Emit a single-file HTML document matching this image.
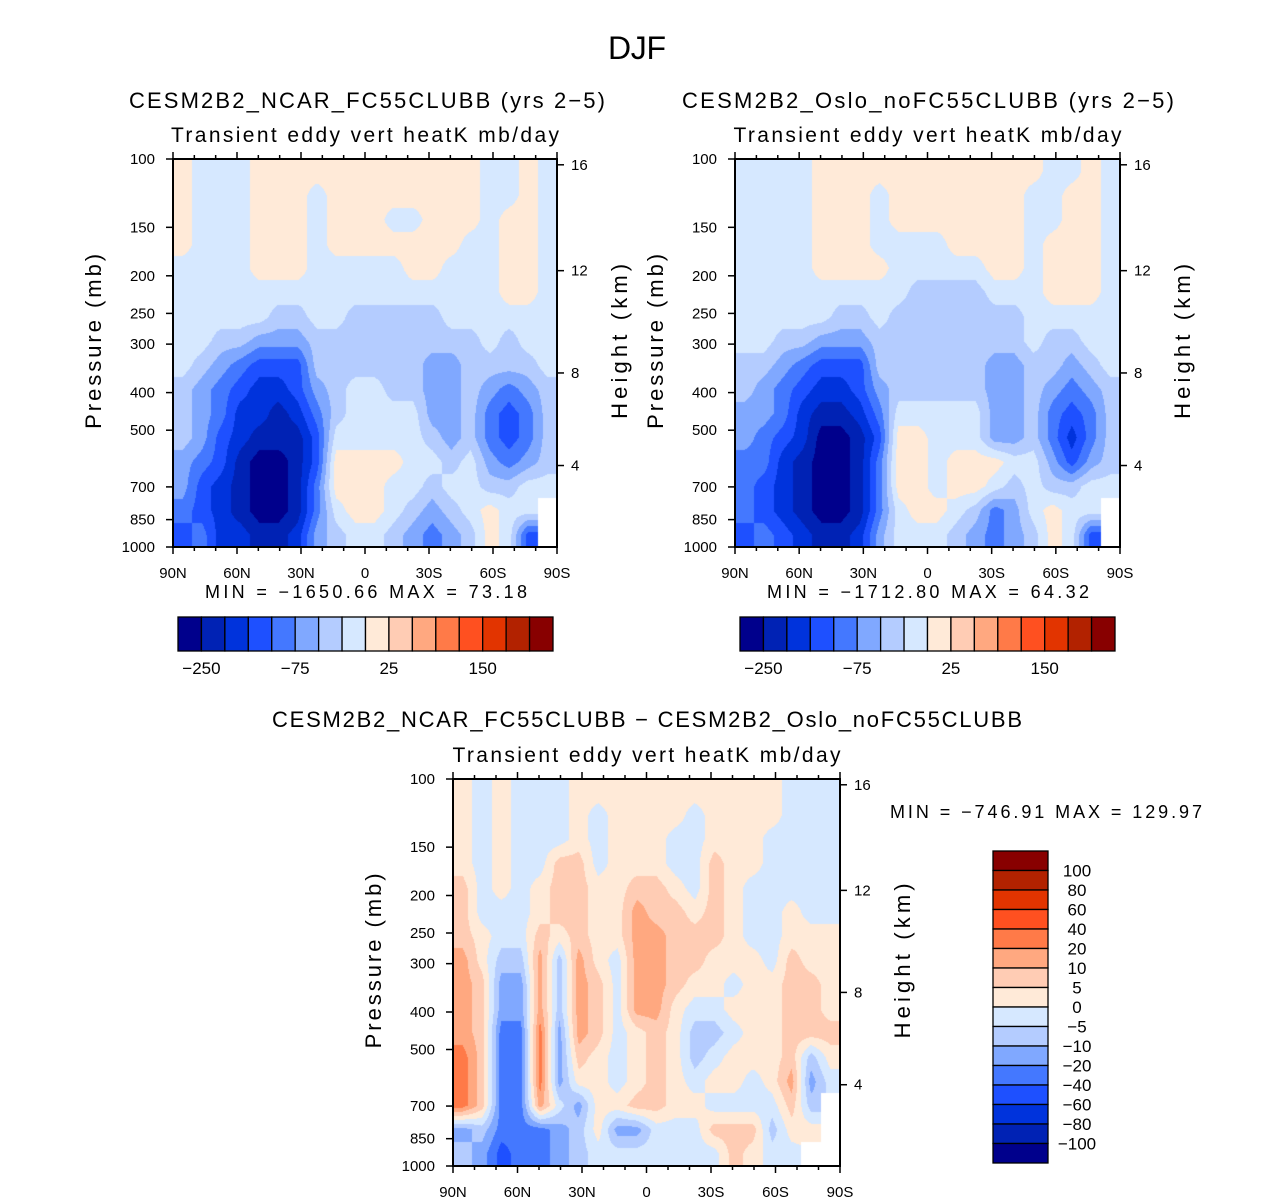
<!DOCTYPE html>
<html><head><meta charset="utf-8">
<style>
html,body{margin:0;padding:0;background:#fff;}
#wrap{position:relative;width:1285px;height:1204px;overflow:hidden;}
canvas{position:absolute;z-index:0;}
svg{position:absolute;left:0;top:0;z-index:1;display:block;font-family:"Liberation Sans",sans-serif;}
</style></head>
<body>
<div id="wrap">
<svg id="fig" width="1285" height="1204" viewBox="0 0 1285 1204" xmlns="http://www.w3.org/2000/svg">
<text x="637" y="59" font-size="32" text-anchor="middle" textLength="58">DJF</text>
</svg>
</div>
<script>
const LEVEL_COLORS = ["#00008C","#0022B4","#0033DC","#1E50FF","#4478FF","#80A8FF","#B4CCFF","#D6E8FF","#FFEAD8","#FFCCB4","#FFA880","#FF7A48","#FF5020","#E23400","#B22200","#880000"];
const colorbarLabelsTop = ["-250","-75","25","150"];
const colorbarLabelIdx = [1,5,9,13];
const colorbarLabelsDiff = ["100","80","60","40","20","10","5","0","-5","-10","-20","-40","-60","-80","-100"];
const pressureTicks = [100,150,200,250,300,400,500,700,850,1000];
const heightTicks = [16,12,8,4];
const heightPressures = [103.5,194,356,616.6];
const latLabels = ["90N","60N","30N","0","30S","60S","90S"];
// field grids: rows top (100 mb) to bottom (1000 mb), columns 90N -> 90S; hex digit = color level, '.' = missing
const fieldA = [
"87778888888888887787",
"87778887888888887787",
"87778887888778887887",
"87778887888888877887",
"77778887777788777887",
"77777777777777777887",
"77777667766666777777",
"77665556666666667677",
"76543336666665566667",
"65432235677665565456",
"65422124677775564346",
"65321113777776564346",
"54310013888877675456",
"53210014888776776677",
"4321001478876567877.",
"3422112567765456873."];
const fieldB = [
"77778888888888887787",
"77778887888888877887",
"77778887888888877887",
"77778887777888878887",
"77778888777778878887",
"77777777766667778887",
"77777667666666677777",
"77665556666666676677",
"66543336666665566567",
"65432235666665565456",
"55421124777775564346",
"54320013887775564246",
"44210014887888775356",
"43210014887887676677",
"4321001478876457877.",
"3432112577765456873."];
const fieldC = [
"87877788888888888777",
"87877787888878888777",
"87877787888778887777",
"87877997888779887777",
"97878998899879877777",
"977789988a9989877877",
"987798988aa999877888",
"a866a6a87aa998887988",
"a955a6a97aa988788998",
"a955a6a97aa877888998",
"a944b5a9789866788999",
"b944b598789867888968",
"b944b588789878878a57",
"b944a75889988777796.",
"5644456855777999688.",
"653445677777779877.."];

const NS = "http://www.w3.org/2000/svg";
const svg = document.getElementById("fig");
const wrap = document.getElementById("wrap");
function mk(tag, attrs, parent){
  const e = document.createElementNS(NS, tag);
  for (const k in attrs) e.setAttribute(k, attrs[k]);
  (parent||svg).appendChild(e);
  return e;
}
function hexRGB(h){ return [parseInt(h.substr(1,2),16),parseInt(h.substr(3,2),16),parseInt(h.substr(5,2),16)]; }
const RGB = LEVEL_COLORS.map(hexRGB);
function yOfP(p, y0, h){ return y0 + Math.log10(p/100) * h; }

function drawField(grid, x0, y0, w, h, name){
  const nr = grid.length, nc = grid[0].length;
  const val = (r,c)=>{
    r = Math.min(nr-1, Math.max(0,r)); c = Math.min(nc-1, Math.max(0,c));
    const ch = grid[r][c];
    return ch === "." ? null : parseInt(ch,16);
  };
  const cv = document.createElement("canvas");
  cv.width = w; cv.height = h;
  cv.style.left = x0+"px"; cv.style.top = y0+"px";
  
  
  const ctx = cv.getContext("2d");
  const img = ctx.createImageData(w,h);
  for (let py=0; py<h; py++){
    const v = (py+0.5)/h*nr - 0.5;
    const r0 = Math.floor(v), fr = v - r0;
    for (let px=0; px<w; px++){
      const u = (px+0.5)/w*nc - 0.5;
      const c0 = Math.floor(u), fc = u - c0;
      const nearest = val(Math.round(v), Math.round(u));
      let rgb;
      if (nearest === null){ rgb = [255,255,255]; }
      else {
        let s=0, wt=0;
        const pts = [[r0,c0,(1-fr)*(1-fc)],[r0,c0+1,(1-fr)*fc],[r0+1,c0,fr*(1-fc)],[r0+1,c0+1,fr*fc]];
        for (const [rr,cc,ww] of pts){ const q = val(rr,cc); if (q!==null){ s+=q*ww; wt+=ww; } }
        const lev = Math.max(0, Math.min(15, Math.round(s/wt)));
        rgb = RGB[lev];
      }
      const i = (py*w+px)*4;
      img.data[i]=rgb[0]; img.data[i+1]=rgb[1]; img.data[i+2]=rgb[2]; img.data[i+3]=255;
    }
  }
  ctx.putImageData(img,0,0);
  wrap.appendChild(cv);
}

function drawAxes(x0, y0, w, h, opt){
  const g = mk("g", {});
  
  
  mk("rect", {x:x0, y:y0, width:w, height:h, fill:"none", stroke:"#000", "stroke-width":2}, g);
  for (let i=0;i<=18;i++){
    const x = x0 + i*w/18;
    const len = (i%3===0)?7:4;
    mk("line",{x1:x,y1:y0,x2:x,y2:y0-len,stroke:"#000","stroke-width":1.5},g);
    mk("line",{x1:x,y1:y0+h,x2:x,y2:y0+h+len,stroke:"#000","stroke-width":1.5},g);
  }
  latLabels.forEach((lab,i)=>{
    const t = mk("text",{x:x0+i*w/6, y:y0+h+31, "font-size":15, "text-anchor":"middle"}, g);
    t.textContent = lab;
    
    
  });
  pressureTicks.forEach(p=>{
    const y = yOfP(p,y0,h);
    mk("line",{x1:x0,y1:y,x2:x0-7,y2:y,stroke:"#000","stroke-width":1.5},g);
    const t = mk("text",{x:x0-18, y:y+5, "font-size":15, "text-anchor":"end"}, g);
    t.textContent = p;
    
    
  });
  heightTicks.forEach((km,i)=>{
    const y = yOfP(heightPressures[i],y0,h);
    mk("line",{x1:x0+w,y1:y,x2:x0+w+7,y2:y,stroke:"#000","stroke-width":1.5},g);
    const t = mk("text",{x:x0+w+14, y:y+5, "font-size":15}, g);
    t.textContent = km;
    
    
  });
  const yl = mk("text",{x:0,y:0,"font-size":22,"text-anchor":"middle","textLength":175,
     transform:"translate("+(x0-72)+","+(y0+h*0.47)+") rotate(-90)"}, g);
  yl.textContent = "Pressure  (mb)";
  
  
  const yr = mk("text",{x:0,y:0,"font-size":22,"text-anchor":"middle","textLength":155,
     transform:"translate("+(x0+w+70)+","+(y0+h*0.47)+") rotate(-90)"}, g);
  yr.textContent = "Height  (km)";
  
  
  const tt = mk("text",{x:opt.titleX, y:opt.titleY, "font-size":22, "text-anchor":"middle", textLength:opt.titleW}, g);
  tt.textContent = opt.title;
  
  
  const st = mk("text",{x:x0+w/2, y:y0-17, "font-size":21, "text-anchor":"middle", textLength:388}, g);
  st.textContent = "Transient eddy vert heatK  mb/day";
  
  
  const mm = mk("text",{x:opt.mmX, y:opt.mmY, "font-size":18, "text-anchor":opt.mmAnchor, textLength:opt.mmW}, g);
  mm.textContent = opt.mm;
  
  
}

function drawHBar(x0,y0,w,h,name){
  const g = mk("g",{});
  
  
  const bw = w/LEVEL_COLORS.length;
  LEVEL_COLORS.forEach((c,i)=>{
    const r = mk("rect",{x:x0+i*bw,y:y0,width:bw,height:h,fill:c,stroke:"#000","stroke-width":1.3},g);
    
    
  });
  colorbarLabelsTop.forEach((lab,i)=>{
    const t = mk("text",{x:x0+colorbarLabelIdx[i]*bw, y:y0+h+23, "font-size":17, "text-anchor":"middle"},g);
    t.textContent = lab.replace("-","\u2212");
    
    
  });
}
function drawVBar(x0,y0,w,h,name){
  const g = mk("g",{});
  
  
  const n = LEVEL_COLORS.length, bh = h/n;
  for (let i=0;i<n;i++){
    const r = mk("rect",{x:x0,y:y0+i*bh,width:w,height:bh,fill:LEVEL_COLORS[n-1-i],stroke:"#000","stroke-width":1.3},g);
    
    
  }
  colorbarLabelsDiff.forEach((lab,i)=>{
    const t = mk("text",{x:1077, y:y0+(i+1)*bh+6, "font-size":17, "text-anchor":"middle"},g);
    t.textContent = lab.replace("-","\u2212");
    
    
  });
}

drawField(fieldA,173,159,384,388,"ncar-contour-field");
drawAxes(173,159,384,388,{name:"ncar",title:"CESM2B2_NCAR_FC55CLUBB (yrs 2\u22125)",titleX:367,titleY:108,titleW:476,
  mm:"MIN = \u22121650.66   MAX =   73.18",mmX:366,mmY:598,mmW:322,mmAnchor:"middle"});
drawHBar(178,617,375,34,"ncar-colorbar");

drawField(fieldB,735,159,385,388,"oslo-contour-field");
drawAxes(735,159,385,388,{name:"oslo",title:"CESM2B2_Oslo_noFC55CLUBB (yrs 2\u22125)",titleX:928,titleY:108,titleW:492,
  mm:"MIN = \u22121712.80   MAX =   64.32",mmX:928,mmY:598,mmW:322,mmAnchor:"middle"});
drawHBar(740,617,375,34,"oslo-colorbar");

drawField(fieldC,453,779,387,387,"difference-contour-field");
drawAxes(453,779,387,387,{name:"diff",title:"CESM2B2_NCAR_FC55CLUBB \u2212 CESM2B2_Oslo_noFC55CLUBB",titleX:647,titleY:727,titleW:750,
  mm:"MIN = \u2212746.91   MAX = 129.97",mmX:890,mmY:818,mmW:312,mmAnchor:"start"});
drawVBar(993,851,55,312,"difference-colorbar");
</script>
</body></html>
